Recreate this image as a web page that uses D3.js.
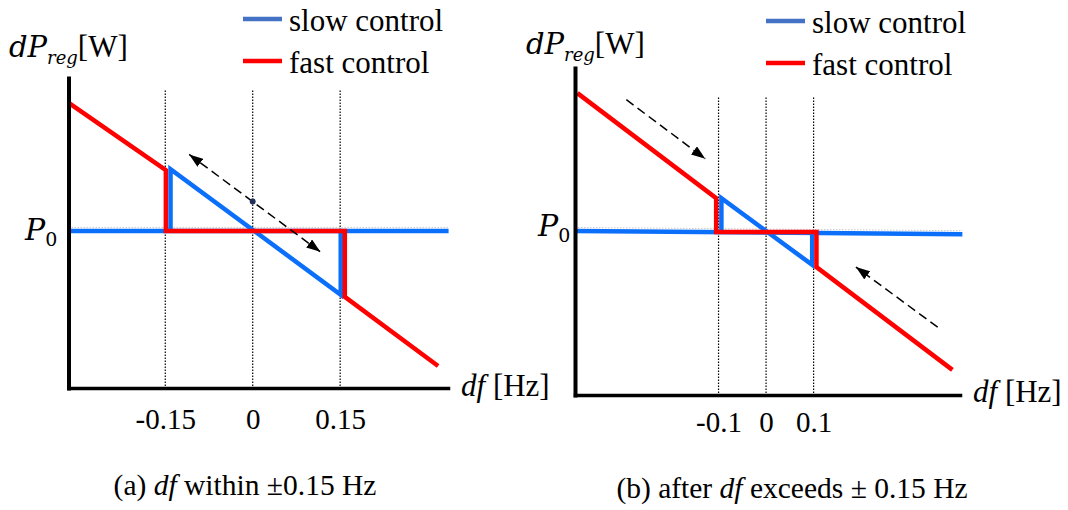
<!DOCTYPE html>
<html>
<head>
<meta charset="utf-8">
<script src="https://cdn.jsdelivr.net/npm/d3@7"></script>
<style>
  html, body { margin: 0; padding: 0; background: #fff; }
  svg { display: block; }
  text { font-family: "Liberation Serif", "Times New Roman", serif; fill: #000; }
</style>
</head>
<body>
<svg id="chart" width="1068" height="510"></svg>
<script>
// Frequency ticks on each panel
const ticksA = [-0.15, 0, 0.15];
const tickLabelsA = ["-0.15", "0", "0.15"];
const ticksB = [-0.1, 0, 0.1];
const tickLabelsB = ["-0.1", "0", "0.1"];

// Axis extents: df [Hz] and dP relative to P0
const xDomainA = [-0.316, 0.335];
const yDomainA = [-1.5, 1.46];
const xDomainB = [-0.402, 0.408];
const yDomainB = [-1.5, 1.49];
const guideTopA = 1.34;
const guideTopB = 1.22;

// Control characteristics, points are [df, dP - P0]
const fastA = [[-0.315, 1.22], [-0.149, 0.58], [-0.149, 0], [0.158, 0], [0.158, -0.63], [0.318, -1.29]];
const slowBaseA = [[-0.316, 0], [0.336, 0]];
const slowDroopA = [[-0.141, 0], [-0.141, 0.59], [0.151, -0.61], [0.151, 0]];

const fastB = [[-0.397, 1.26], [-0.105, 0.30], [-0.105, -0.01], [0.106, -0.01], [0.106, -0.33], [0.392, -1.27]];
const slowBaseB = [[-0.402, 0], [0.413, -0.03]];
const slowDroopB = [[-0.094, -0.005], [-0.094, 0.30], [0.097, -0.31], [0.097, -0.015]];

// Dashed trajectory arrows [from, to]
const arrowsA = [[[-0.109, 0.73], [0.116, -0.20]]];
const operatingPointA = [[0, 0.28]];
const arrowsB = [[[-0.294, 1.20], [-0.128, 0.66]], [[0.361, -0.88], [0.189, -0.33]]];

const legendLabels = ["slow control", "fast control"];

const COLORS = { slow: "#0B6FFA", fast: "#FF0000", slowKey: "#4472C4", fastKey: "#FF0000" };
const SERIF = "'Liberation Serif', 'Times New Roman', serif";
const MATH = "'DejaVu Serif', serif";

const svg = d3.select("#chart");
svg.append("rect").attr("width", 1068).attr("height", 510).attr("fill", "#fff");

const defs = svg.append("defs");
defs.append("marker")
  .attr("id", "head")
  .attr("viewBox", "0 0 14 10")
  .attr("refX", 14).attr("refY", 5)
  .attr("markerWidth", 14).attr("markerHeight", 10)
  .attr("markerUnits", "userSpaceOnUse")
  .attr("orient", "auto-start-reverse")
  .append("path").attr("d", "M0,0 L14,5 L0,10 Z").attr("fill", "#000");

function drawPanel(cfg) {
  const g = svg.append("g");
  const x = d3.scaleLinear().domain(cfg.xDomain).range(cfg.xRange);
  const y = d3.scaleLinear().domain(cfg.yDomain).range(cfg.yRange);
  const line = d3.line().x(d => x(d[0])).y(d => y(d[1]));
  const y0 = y(cfg.yDomain[0]);

  // dotted guides at the dead-band limits
  g.selectAll("line.guide").data(cfg.ticks).join("line")
    .attr("class", "guide")
    .attr("x1", d => x(d)).attr("x2", d => x(d))
    .attr("y1", y(cfg.guideTop)).attr("y2", y0)
    .attr("stroke", "#000").attr("stroke-width", 1.2)
    .attr("stroke-dasharray", "1.5,1.5");

  // faint outline along the P0 level
  g.append("path").datum(cfg.slowBase)
    .attr("d", line).attr("transform", "translate(0,-3.5)")
    .attr("fill", "none").attr("stroke", "#c9c9c9")
    .attr("stroke-width", 1).attr("stroke-dasharray", "1.5,1.5");

  const series = [
    { pts: cfg.slowBase, color: COLORS.slow },
    { pts: cfg.slowDroop, color: COLORS.slow },
    { pts: cfg.fast, color: COLORS.fast }
  ];
  g.selectAll("path.series").data(series).join("path")
    .attr("class", "series")
    .attr("d", d => line(d.pts))
    .attr("fill", "none").attr("stroke", d => d.color)
    .attr("stroke-width", 4.5)
    .attr("stroke-linejoin", "miter").attr("stroke-linecap", "butt");

  // dashed trajectory arrows
  g.selectAll("line.arrow").data(cfg.arrows).join("line")
    .attr("class", "arrow")
    .attr("x1", d => x(d[0][0])).attr("y1", d => y(d[0][1]))
    .attr("x2", d => x(d[1][0])).attr("y2", d => y(d[1][1]))
    .attr("stroke", "#000").attr("stroke-width", 1.5)
    .attr("stroke-dasharray", "9,5")
    .attr("marker-end", "url(#head)")
    .attr("marker-start", cfg.doubleHead ? "url(#head)" : null);

  g.selectAll("circle.op").data(cfg.points).join("circle")
    .attr("class", "op")
    .attr("cx", d => x(d[0])).attr("cy", d => y(d[1]))
    .attr("r", 3).attr("fill", "#1f2f57");

  // axes
  const xAxis = d3.axisBottom(x).tickValues(cfg.ticks)
    .tickFormat((d, i) => cfg.tickLabels[i]).tickSize(0).tickSizeOuter(0);
  const gx = g.append("g").attr("transform", `translate(0,${y0})`).call(xAxis);
  gx.attr("font-family", SERIF).attr("font-size", 29);
  gx.select(".domain").attr("stroke", "#000").attr("stroke-width", 3.5).attr("stroke-linecap", "square");
  gx.selectAll(".tick text").attr("y", cfg.tickOffset).attr("dy", 0).attr("fill", "#000");

  const yAxis = d3.axisLeft(y).tickValues([]).tickSizeOuter(0);
  const gy = g.append("g").attr("transform", `translate(${x(cfg.xDomain[0])},0)`).call(yAxis);
  gy.select(".domain").attr("stroke", "#000").attr("stroke-width", 4).attr("stroke-linecap", "square");

  // P0 label
  const p0 = g.append("text")
    .attr("x", cfg.p0Label[0]).attr("y", cfg.p0Label[1]);
  p0.append("tspan").attr("font-family", MATH).attr("font-style", "italic").attr("font-size", 30).text("P");
  p0.append("tspan").attr("font-family", MATH).attr("font-size", 19).attr("dy", 6).text("0");

  // y-axis title
  const yt = g.append("text").attr("x", cfg.yTitle[0]).attr("y", cfg.yTitle[1]);
  yt.append("tspan").attr("font-family", MATH).attr("font-style", "italic").attr("font-size", 29).text("dP");
  yt.append("tspan").attr("font-family", MATH).attr("font-style", "italic").attr("font-size", 18).attr("dy", 7).text("reg");
  yt.append("tspan").attr("font-family", SERIF).attr("font-size", 31).attr("dy", -7).text("[W]");

  // x-axis title
  const xt = g.append("text").attr("x", cfg.xTitle[0]).attr("y", cfg.xTitle[1]).attr("font-size", 31);
  xt.append("tspan").attr("font-style", "italic").text("df");
  xt.append("tspan").text(" [Hz]");

  // legend
  const lg = g.append("g").attr("transform", `translate(${cfg.legend[0]},${cfg.legend[1]})`);
  const keys = [COLORS.slowKey, COLORS.fastKey];
  legendLabels.forEach((lab, i) => {
    const row = lg.append("g").attr("transform", `translate(0,${i * 42})`);
    row.append("line").attr("x1", 0).attr("x2", 39).attr("y1", 0).attr("y2", 0)
      .attr("stroke", keys[i]).attr("stroke-width", 4.5);
    row.append("text").attr("x", 46).attr("y", 12).attr("font-size", 31).text(lab);
  });

  // caption
  const cap = g.append("text").attr("x", cfg.caption.x).attr("y", cfg.caption.y)
    .attr("text-anchor", "middle").attr("font-size", 29.5);
  cfg.caption.parts.forEach(p => {
    cap.append("tspan").attr("font-style", p.italic ? "italic" : null).text(p.t);
  });
}

drawPanel({
  xDomain: xDomainA, yDomain: yDomainA,
  xRange: [68.5, 448], yRange: [388, 78],
  ticks: ticksA, tickLabels: tickLabelsA, tickOffset: 41,
  guideTop: guideTopA,
  fast: fastA, slowBase: slowBaseA, slowDroop: slowDroopA,
  arrows: arrowsA, doubleHead: true, points: operatingPointA,
  p0Label: [25, 240], yTitle: [9, 57], xTitle: [461, 396],
  legend: [243, 19],
  caption: { x: 245, y: 495, parts: [{ t: "(a) " }, { t: "df", italic: true }, { t: " within ±0.15 Hz" }] }
});

drawPanel({
  xDomain: xDomainB, yDomain: yDomainB,
  xRange: [575, 960], yRange: [395, 68],
  ticks: ticksB, tickLabels: tickLabelsB, tickOffset: 37,
  guideTop: guideTopB,
  fast: fastB, slowBase: slowBaseB, slowDroop: slowDroopB,
  arrows: arrowsB, doubleHead: false, points: [],
  p0Label: [538, 236], yTitle: [526, 54], xTitle: [973, 402],
  legend: [766, 21],
  caption: { x: 792, y: 498, parts: [{ t: "(b) after " }, { t: "df", italic: true }, { t: " exceeds ± 0.15 Hz" }] }
});
</script>
</body>
</html>
